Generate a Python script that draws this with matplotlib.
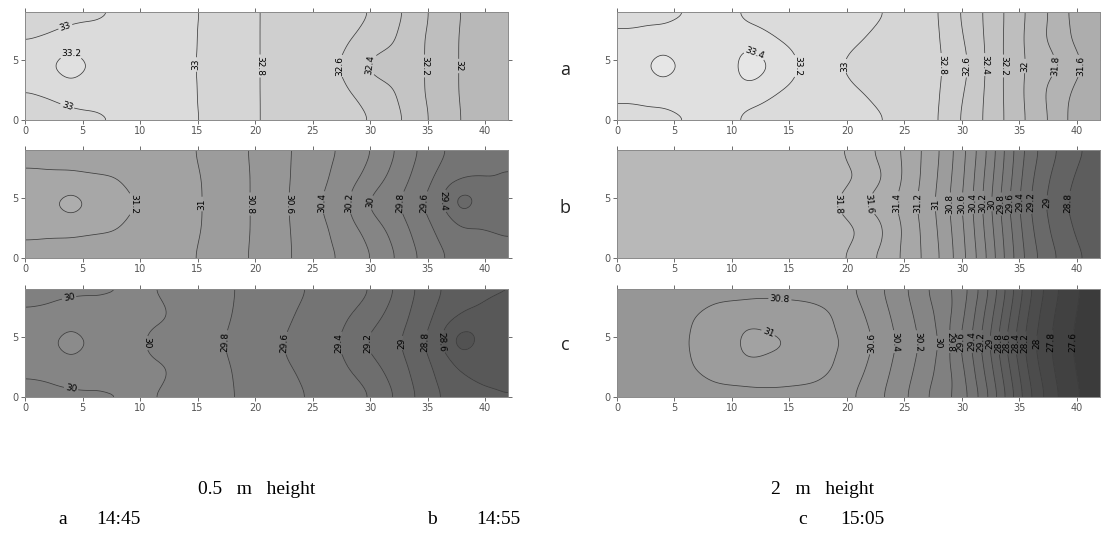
import numpy as np
import matplotlib.pyplot as plt
import matplotlib.tri as mtri

# measurement grid (m): columns along the room, rows across it
x_cols = np.arange(0, 43, 2)
y_rows = np.array([0, 2.25, 4.5, 6.75, 9])

# temperatures (degC): edge row (y=0 / 9), quarter row (y=2.25 / 6.75), centre row (y=4.5)
# 0.5 m height
a05_edge = [32.86, 32.88, 32.92, 32.96, 33.00, 33.04, 33.04, 33.03, 32.98, 32.89, 32.81, 32.76, 32.73, 32.70, 32.66, 32.61, 32.48, 32.30, 32.12, 31.99, 31.91, 31.86]
a05_quar = [32.99, 33.03, 33.09, 33.06, 33.06, 33.06, 33.05, 33.03, 32.97, 32.88, 32.81, 32.76, 32.72, 32.68, 32.63, 32.52, 32.42, 32.26, 32.10, 31.98, 31.90, 31.85]
a05_cent = [33.08, 33.18, 33.38, 33.17, 33.09, 33.07, 33.06, 33.03, 32.96, 32.88, 32.81, 32.76, 32.72, 32.66, 32.55, 32.35, 32.33, 32.26, 32.10, 31.98, 31.90, 31.85]

b05_edge = [31.14, 31.14, 31.13, 31.12, 31.10, 31.08, 31.05, 31.02, 30.97, 30.87, 30.77, 30.66, 30.56, 30.46, 30.36, 30.22, 30.03, 29.82, 29.65, 29.52, 29.45, 29.42]
b05_quar = [31.23, 31.22, 31.22, 31.21, 31.20, 31.13, 31.08, 31.04, 30.98, 30.88, 30.78, 30.66, 30.55, 30.43, 30.30, 30.13, 29.95, 29.75, 29.56, 29.43, 29.41, 29.39]
b05_cent = [31.30, 31.36, 31.58, 31.35, 31.27, 31.19, 31.12, 31.05, 30.98, 30.88, 30.78, 30.65, 30.54, 30.38, 30.21, 29.96, 29.84, 29.65, 29.45, 29.02, 29.30, 29.33]

c05_edge = [29.95, 29.96, 29.97, 29.98, 29.99, 30.01, 29.99, 29.93, 29.88, 29.81, 29.74, 29.68, 29.62, 29.55, 29.49, 29.42, 29.22, 29.00, 28.82, 28.70, 28.63, 28.61]
c05_quar = [30.02, 30.03, 30.06, 30.04, 30.04, 30.04, 30.02, 29.96, 29.88, 29.80, 29.72, 29.65, 29.58, 29.50, 29.42, 29.30, 29.12, 28.95, 28.75, 28.58, 28.55, 28.55]
c05_cent = [30.09, 30.14, 30.42, 30.14, 30.06, 30.01, 29.95, 29.90, 29.85, 29.77, 29.70, 29.62, 29.52, 29.45, 29.36, 29.15, 29.05, 28.88, 28.62, 28.22, 28.48, 28.52]

# 2 m height
a2_edge = [33.17, 33.16, 33.15, 33.19, 33.22, 33.21, 33.15, 33.12, 33.10, 33.08, 33.06, 33.03, 32.99, 32.93, 32.80, 32.58, 32.38, 32.16, 31.95, 31.75, 31.50, 31.37]
a2_quar = [33.22, 33.23, 33.25, 33.26, 33.28, 33.27, 33.26, 33.20, 33.14, 33.08, 33.03, 32.99, 32.95, 32.90, 32.82, 32.62, 32.39, 32.15, 31.93, 31.72, 31.55, 31.45]
a2_cent = [33.30, 33.33, 33.62, 33.33, 33.30, 33.33, 33.62, 33.30, 33.20, 33.08, 32.97, 32.94, 32.92, 32.88, 32.83, 32.67, 32.40, 32.15, 31.95, 31.85, 31.63, 31.52]

b2_edge = [31.90, 31.90, 31.90, 31.90, 31.90, 31.90, 31.90, 31.90, 31.89, 31.87, 31.79, 31.62, 31.46, 31.26, 31.02, 30.68, 30.25, 29.72, 29.28, 29.03, 28.83, 28.73]
b2_quar = [31.90, 31.90, 31.90, 31.90, 31.90, 31.90, 31.90, 31.90, 31.89, 31.88, 31.85, 31.75, 31.50, 31.25, 30.99, 30.65, 30.19, 29.68, 29.22, 28.95, 28.77, 28.67]
b2_cent = [31.90, 31.90, 31.90, 31.90, 31.90, 31.90, 31.90, 31.90, 31.88, 31.84, 31.74, 31.55, 31.42, 31.21, 30.96, 30.61, 30.15, 29.62, 29.17, 28.90, 28.72, 28.62]

c2_edge = [30.68, 30.69, 30.69, 30.70, 30.71, 30.72, 30.73, 30.73, 30.72, 30.70, 30.64, 30.50, 30.32, 30.12, 29.88, 29.72, 29.30, 28.75, 28.21, 27.85, 27.61, 27.49]
c2_quar = [30.70, 30.72, 30.74, 30.77, 30.86, 30.90, 30.92, 30.92, 30.90, 30.85, 30.72, 30.57, 30.38, 30.18, 29.96, 29.66, 29.19, 28.65, 28.12, 27.79, 27.58, 27.47]
c2_cent = [30.72, 30.74, 30.76, 30.79, 30.86, 30.95, 31.12, 31.03, 30.95, 30.87, 30.78, 30.63, 30.43, 30.23, 30.02, 29.58, 29.11, 28.55, 28.05, 27.75, 27.55, 27.45]

x_ticks = [0, 5, 10, 15, 20, 25, 30, 35, 40]
y_ticks = [0, 5]
levels = np.round(np.arange(27.0, 33.81, 0.2), 1)

# gridding: linear between the readings, then a light gaussian smoothing (Surfer-like look)
Xg, Yg = np.meshgrid(x_cols, y_rows)
tri = mtri.Triangulation(Xg.ravel(), Yg.ravel())
xf = np.linspace(0, 42, 253)
yf = np.linspace(0, 9, 73)
Xf, Yf = np.meshgrid(xf, yf)


def smooth_1d(a, sigma_pts, axis):
    n = int(3 * sigma_pts)
    k = np.exp(-0.5 * (np.arange(-n, n + 1) / sigma_pts) ** 2)
    k /= k.sum()
    pad = [(0, 0), (0, 0)]
    pad[axis] = (n, n)
    ap = np.pad(a, pad, mode='reflect')
    return np.apply_along_axis(lambda r: np.convolve(r, k, mode='valid'), axis, ap)


def surface(edge, quar, cent):
    z = np.array([edge, quar, cent, quar, edge], dtype=float)
    lin = mtri.LinearTriInterpolator(tri, z.ravel())
    Z = np.asarray(lin(Xf, Yf).filled(np.nan))
    Z = smooth_1d(Z, 0.65 / (xf[1] - xf[0]), axis=1)
    Z = smooth_1d(Z, 0.6 / (yf[1] - yf[0]), axis=0)
    return Z


def label_spots(cs, min_len=6.5):
    spots = []
    for path in cs.get_paths():
        v, c = path.vertices, path.codes
        if len(v) == 0:
            continue
        if c is None:
            pieces = [v]
        else:
            starts = np.where(c == 1)[0]
            pieces = np.split(v, starts[1:])
        for p in pieces:
            if len(p) < 3:
                continue
            d = np.hypot(np.diff(p[:, 0]), np.diff(p[:, 1]))
            s = np.concatenate([[0], np.cumsum(d)])
            if s[-1] > min_len:
                k = np.searchsorted(s, s[-1] / 2)
                spots.append((p[k, 0], p[k, 1]))
    return spots


fig = plt.figure(figsize=(11.01, 5.42), dpi=100)
norm = plt.Normalize(25.4, 34.4)

W = 483 / 1101
H = 108 / 542
lefts = [25 / 1101, 617 / 1101]
bottoms = [1 - 120 / 542, 1 - 258 / 542, 1 - 397 / 542]

panels = [
    (0, 0, a05_edge, a05_quar, a05_cent),
    (0, 1, b05_edge, b05_quar, b05_cent),
    (0, 2, c05_edge, c05_quar, c05_cent),
    (1, 0, a2_edge, a2_quar, a2_cent),
    (1, 1, b2_edge, b2_quar, b2_cent),
    (1, 2, c2_edge, c2_quar, c2_cent),
]

fmt = lambda v: f'{round(v, 1):g}'

for col, row, e, q, c in panels:
    ax = fig.add_axes([lefts[col], bottoms[row], W, H])
    Z = surface(e, q, c)
    ax.contourf(Xf, Yf, Z, levels=levels, cmap='gray', norm=norm)
    cs = ax.contour(Xf, Yf, Z, levels=levels, colors='#3c3c3c', linewidths=0.55)
    spots = label_spots(cs)
    if spots:
        ax.clabel(cs, manual=spots, fmt=fmt, fontsize=6.5, inline=True, inline_spacing=1.5, colors='black')
    ax.set_xlim(0, 42)
    ax.set_ylim(0, 9)
    ax.set_xticks(x_ticks)
    ax.set_yticks(y_ticks)
    ax.tick_params(direction='out', length=3, width=0.6, labelsize=7, colors='#555555',
                   top=True, right=True, pad=1.5)
    for sp in ax.spines.values():
        sp.set_color('#8a8a8a')
        sp.set_linewidth(0.7)

for lab, yy in zip(['a', 'b', 'c'], [70, 208, 345]):
    fig.text(565 / 1101, 1 - yy / 542, lab, ha='center', va='center', fontsize=13,
             family='Open Sans', color='#222222')

serif = 'Liberation Serif'
fig.text(257 / 1101, 1 - 490 / 542, '0.5   m   height', ha='center', va='center', fontsize=14, family=serif)
fig.text(823 / 1101, 1 - 490 / 542, '2   m   height', ha='center', va='center', fontsize=14, family=serif)
fig.text(63 / 1101, 1 - 519 / 542, 'a', ha='center', va='center', fontsize=14, family=serif)
fig.text(118 / 1101, 1 - 519 / 542, '14:45', ha='center', va='center', fontsize=14, family=serif)
fig.text(432 / 1101, 1 - 519 / 542, 'b', ha='center', va='center', fontsize=14, family=serif)
fig.text(498 / 1101, 1 - 519 / 542, '14:55', ha='center', va='center', fontsize=14, family=serif)
fig.text(803 / 1101, 1 - 519 / 542, 'c', ha='center', va='center', fontsize=14, family=serif)
fig.text(862 / 1101, 1 - 519 / 542, '15:05', ha='center', va='center', fontsize=14, family=serif)

fig.savefig('out.png', dpi=100)
